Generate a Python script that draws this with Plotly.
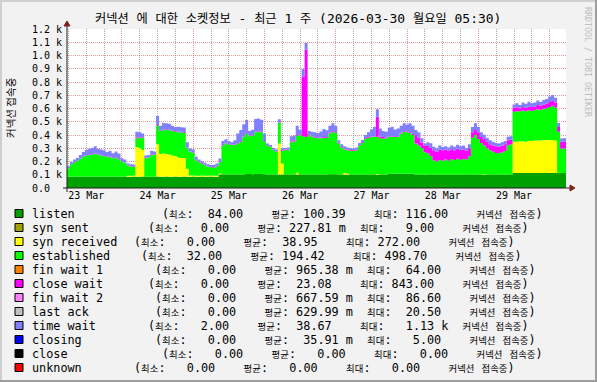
import re
import pandas as pd
import plotly.graph_objects as go

# ---------------- data (hourly, starting 2026-03-23 05:30) ----------------
START = "2026-03-23 05:30"
END = "2026-03-30 05:30"

listen = [
    85, 85, 85, 86, 85, 85, 86, 86, 85, 85, 86, 85,
    85, 86, 85, 85, 86, 85, 85, 86, 85, 85, 86, 85,
    85, 86, 85, 85, 86, 85, 86, 85, 85, 86, 85, 85,
    86, 85, 85, 86, 85, 85, 86, 85, 85, 86, 85, 85,
    86, 85, 85, 101, 101, 102, 101, 101, 102, 101, 101, 102,
    105, 105, 104, 105, 105, 105, 104, 101, 101, 102, 101, 101,
    101, 102, 101, 101, 102, 101, 101, 102, 101, 101, 102, 101,
    101, 102, 101, 101, 104, 104, 104, 100, 100, 101, 100, 100,
    101, 100, 100, 101, 100, 100, 101, 100, 100, 101, 100, 100,
    108, 108, 109, 108, 108, 109, 108, 108, 108, 100, 100, 101,
    100, 100, 101, 100, 100, 101, 100, 100, 101, 100, 100, 101,
    100, 100, 101, 100, 100, 101, 100, 100, 101, 100, 100, 101,
    100, 100, 101, 100, 100, 101, 113, 113, 114, 113, 113, 114,
    113, 113, 114, 113, 113, 114, 113, 113, 114, 113, 113, 114,
]

syn_received = [
    0, 0, 0, 0, 0, 0, 0, 0, 0, 0, 0, 0,
    0, 0, 0, 0, 0, 0, 0, 0, 8, 8, 8, 225,
    215, 200, 0, 0, 0, 0, 245, 172, 175, 170, 168, 160,
    155, 145, 142, 140, 60, 10, 8, 8, 8, 8, 8, 8,
    8, 8, 8, 8, 0, 0, 0, 0, 0, 0, 0, 0,
    0, 0, 0, 0, 0, 0, 0, 0, 0, 0, 0, 235,
    83, 0, 0, 0, 0, 15, 0, 0, 0, 0, 0, 0,
    0, 0, 0, 0, 0, 0, 0, 0, 0, 15, 8, 0,
    0, 0, 0, 0, 0, 0, 0, 0, 5, 0, 0, 0,
    0, 0, 0, 0, 0, 0, 0, 0, 0, 0, 0, 0,
    0, 0, 0, 0, 0, 0, 0, 0, 0, 0, 0, 0,
    0, 0, 0, 0, 0, 0, 0, 0, 5, 0, 0, 0,
    0, 0, 0, 0, 0, 0, 237, 237, 239, 239, 237, 242,
    242, 245, 247, 245, 247, 249, 249, 247, 245, 0, 0, 0,
]

established = [
    62, 95, 110, 117, 135, 150, 160, 163, 165, 173, 165, 160,
    155, 150, 147, 140, 140, 130, 115, 105, 79, 67, 67, 64,
    80, 95, 140, 145, 163, 165, 140, 173, 175, 185, 182, 185,
    185, 190, 193, 190, 155, 178, 172, 117, 102, 91, 79, 67,
    62, 62, 72, 86, 219, 235, 229, 224, 224, 235, 249, 284,
    307, 285, 290, 315, 319, 315, 243, 217, 210, 184, 171, 157,
    96, 184, 184, 244, 249, 279, 299, 289, 284, 299, 284, 279,
    274, 274, 279, 279, 308, 320, 311, 236, 205, 175, 177, 182,
    180, 185, 220, 241, 270, 280, 285, 286, 281, 274, 274, 275,
    278, 278, 278, 278, 304, 316, 312, 307, 292, 236, 220, 200,
    170, 162, 140, 110, 100, 110, 105, 115, 105, 118, 112, 120,
    114, 118, 115, 140, 280, 299, 270, 240, 215, 200, 185, 173,
    165, 162, 168, 180, 223, 230, 225, 230, 226, 233, 230, 230,
    227, 230, 232, 232, 238, 238, 250, 260, 247, 311, 185, 185,
]

close_wait = [
    2, 2, 3, 2, 2, 3, 2, 2, 3, 2, 2, 3,
    2, 2, 3, 2, 2, 3, 2, 2, 3, 2, 3, 8,
    3, 3, 3, 3, 3, 3, 5, 4, 4, 4, 4, 4,
    4, 4, 4, 4, 4, 3, 3, 3, 3, 3, 3, 3,
    3, 3, 3, 3, 4, 4, 4, 4, 4, 4, 4, 4,
    4, 4, 4, 4, 4, 4, 4, 4, 4, 4, 4, 4,
    4, 4, 4, 6, 10, 5, 5, 451, 658, 5, 5, 5,
    5, 5, 5, 5, 6, 6, 6, 5, 5, 5, 5, 5,
    5, 5, 5, 5, 5, 5, 5, 5, 152, 13, 11, 5,
    5, 5, 5, 5, 5, 5, 5, 5, 8, 64, 60, 40,
    50, 61, 60, 75, 73, 80, 80, 75, 75, 74, 73, 75,
    74, 72, 65, 60, 40, 38, 50, 45, 50, 50, 45, 47,
    50, 50, 50, 50, 37, 35, 30, 30, 22, 27, 25, 30,
    30, 27, 33, 30, 32, 35, 38, 40, 40, 36, 51, 51,
]

time_wait = [
    15, 15, 18, 21, 28, 33, 38, 45, 48, 56, 43, 43,
    43, 33, 46, 35, 48, 43, 23, 23, 11, 18, 13, 42,
    37, 27, 17, 17, 29, 22, 68, 36, 51, 44, 46, 36,
    31, 38, 34, 36, 41, 22, 22, 22, 17, 13, 15, 17,
    14, 17, 17, 24, 31, 26, 21, 16, 31, 72, 83, 91,
    97, 36, 41, 96, 97, 91, 60, 14, 10, 11, 14, 21,
    16, 11, 16, 39, 35, 70, 35, 56, 51, 25, 34, 35,
    35, 45, 60, 50, 52, 58, 49, 20, 20, 20, 15, 13,
    13, 15, 15, 15, 25, 35, 50, 71, 56, 62, 45, 44,
    64, 71, 49, 59, 53, 59, 55, 68, 62, 37, 40, 34,
    16, 22, 36, 26, 27, 30, 25, 25, 25, 28, 27, 30,
    27, 30, 20, 30, 40, 51, 40, 35, 30, 30, 30, 28,
    25, 24, 27, 25, 26, 25, 25, 30, 25, 33, 30, 35,
    28, 30, 35, 30, 35, 35, 40, 42, 35, 30, 25, 25,
]

# legend statistics
legend_names = ["listen", "syn sent", "syn received", "established", "fin wait 1",
                "close wait", "fin wait 2", "last ack", "time wait", "closing",
                "close", "unknown"]
stat_min = [84.00, 0.00, 0.00, 32.00, 0.00, 0.00, 0.00, 0.00, 2.00, 0.00, 0.00, 0.00]
stat_avg = [100.39, 0.22781, 38.95, 194.42, 0.96538, 23.08, 0.66759, 0.62999,
            38.67, 0.03591, 0.00, 0.00]
stat_max = [116.00, 9.00, 272.00, 498.70, 64.00, 843.00, 86.60, 20.50,
            1130.0, 5.00, 0.00, 0.00]

y_tickvals = [0, 100, 200, 300, 400, 500, 600, 700, 800, 900, 1000, 1100, 1200]
y_ticktext = ["0.0\u00a0\u00a0", "0.1 k", "0.2 k", "0.3 k", "0.4 k", "0.5 k", "0.6 k",
              "0.7 k", "0.8 k", "0.9 k", "1.0 k", "1.1 k", "1.2 k"]

TITLE = "커넥션 에 대한 소켓정보 - 최근 1 주 (2026-03-30 월요일 05:30)"
Y_TITLE = "커넥션 접속중"
UNIT_TEXT = "커넥션 접속중)"

# ---------------- styles ----------------
COLORS = {
    "listen": "#00A000", "syn sent": "#A0A000", "syn received": "#FFFF00",
    "established": "#00FF00", "fin wait 1": "#FF8000", "close wait": "#FF00FF",
    "fin wait 2": "#FF80FF", "last ack": "#C0C0C0", "time wait": "#8080FF",
    "closing": "#0000FF", "close": "#000000", "unknown": "#FF0000",
}
LEGEND_INDENT = [4, 2, 0, 1, 3, 2, 3, 3, 2, 3, 4, 0]   # in character cells

W, H = 597, 382
PL, PR, PT, PB = 67, 566, 29, 188
MONO = "DejaVu Sans Mono, Noto Sans CJK KR"


def PX(x):
    return (x - PL) / (PR - PL)


def PY(y):
    return (PB - y) / (PB - PT)


def kr(s, size):
    s = s.replace(" ", "\u00a0")
    return re.sub(r"([\uac00-\ud7a3]+)",
                  lambda m: f'<span style="font-size:{size}px">{m.group(1)}</span>', s)


def si(v):
    if v == 0:
        return v, " "
    if v >= 1000:
        return v / 1000, "k"
    if v < 1:
        return v * 1000, "m"
    return v, " "


x = pd.date_range(START, periods=len(listen) + 1, freq="h")


def ext(a):
    return list(a) + [a[-1]]


fig = go.Figure()
for name, vals in [("listen", listen), ("syn received", syn_received),
                   ("established", established), ("close wait", close_wait),
                   ("time wait", time_wait)]:
    fig.add_trace(go.Scatter(
        x=x, y=ext(vals), name=name, mode="lines", stackgroup="one",
        line=dict(width=0, shape="hv", color=COLORS[name]),
        fillcolor=COLORS[name], hoverinfo="skip", showlegend=False))

GRID = "rgba(143,143,143,0.75)"
MGRID = "rgba(222,79,79,0.6)"

fig.update_layout(
    width=W, height=H, autosize=False,
    margin=dict(l=PL, r=W - PR, t=PT, b=H - PB, pad=0, autoexpand=False),
    paper_bgcolor="#F2F2F2", plot_bgcolor="#FFFFFF",
    showlegend=False,
    xaxis=dict(
        type="date", range=[START, END], showline=False, zeroline=False,
        automargin=False,
        tick0="2026-03-23", dtick=86400000, ticklabelmode="period",
        tickformat="%d %b", ticks="", showgrid=True, gridcolor=MGRID,
        griddash="1px,1px", gridwidth=1,
        tickfont=dict(family=MONO, size=10, color="#000000"),
        minor=dict(tick0="2026-03-23", dtick=21600000, showgrid=True,
                   gridcolor=GRID, griddash="1px,1px", gridwidth=1),
        layer="below traces",
    ),
    yaxis=dict(
        range=[0, 1200], tickvals=y_tickvals, ticktext=y_ticktext,
        automargin=False,
        showline=False, zeroline=False, ticks="", showgrid=True,
        gridcolor=MGRID, griddash="1px,1px", gridwidth=1,
        tickfont=dict(family=MONO, size=10, color="#000000"),
        ticklabelstandoff=4, layer="below traces",
    ),
)

shapes = []
# 3D border
shapes.append(dict(type="line", xref="paper", yref="paper", x0=PX(0), x1=PX(W),
                   y0=PY(1), y1=PY(1), line=dict(color="#CFCFCF", width=2)))
shapes.append(dict(type="line", xref="paper", yref="paper", x0=PX(1), x1=PX(1),
                   y0=PY(0), y1=PY(H), line=dict(color="#CFCFCF", width=2)))
shapes.append(dict(type="line", xref="paper", yref="paper", x0=PX(0), x1=PX(W),
                   y0=PY(H - 1), y1=PY(H - 1), line=dict(color="#9E9E9E", width=2)))
shapes.append(dict(type="line", xref="paper", yref="paper", x0=PX(W - 1), x1=PX(W - 1),
                   y0=PY(0), y1=PY(H), line=dict(color="#9E9E9E", width=2)))
# axes
shapes.append(dict(type="line", xref="paper", yref="paper", x0=PX(63), x1=PX(571),
                   y0=PY(188), y1=PY(188), line=dict(color="#1F1F1F", width=1)))
shapes.append(dict(type="line", xref="paper", yref="paper", x0=PX(67), x1=PX(67),
                   y0=PY(192), y1=PY(24), line=dict(color="#1F1F1F", width=1)))
# arrows
shapes.append(dict(type="path", xref="paper", yref="paper",
                   path=f"M {PX(570)} {PY(185)} L {PX(575)} {PY(188)} L {PX(570)} {PY(191)} Z",
                   fillcolor="#801F1F", line=dict(color="#801F1F", width=1)))
shapes.append(dict(type="path", xref="paper", yref="paper",
                   path=f"M {PX(64)} {PY(26)} L {PX(67)} {PY(21)} L {PX(70)} {PY(26)} Z",
                   fillcolor="#801F1F", line=dict(color="#801F1F", width=1)))

annotations = []
annotations.append(dict(text=kr(TITLE, 12.2), x=PX(297.5), y=PY(18), xref="paper", yref="paper",
                        xanchor="center", yanchor="middle", showarrow=False,
                        font=dict(family=MONO, size=13, color="#000000")))
annotations.append(dict(text=Y_TITLE, x=PX(10), y=PY(108), xref="paper", yref="paper",
                        xanchor="center", yanchor="middle", showarrow=False, textangle=-90,
                        font=dict(family="Noto Sans CJK KR", size=10.5, color="#000000")))
annotations.append(dict(text="RRDTOOL / TOBI OETIKER", x=PX(588), y=PY(5), xref="paper",
                        yref="paper", xanchor="center", yanchor="top", showarrow=False,
                        textangle=90, font=dict(family=MONO, size=8.3, color="#BDBDBD")))

CELL = 7.1
for r, name in enumerate(legend_names):
    yc = 214 + 14 * r
    shapes.append(dict(type="rect", xref="paper", yref="paper", x0=PX(15), x1=PX(23),
                       y0=PY(yc - 4.5), y1=PY(yc + 3.5), fillcolor=COLORS[name],
                       line=dict(color="#000000", width=1)))
    annotations.append(dict(text=name.replace(" ", "\u00a0"), x=PX(30), y=PY(yc),
                            xref="paper", yref="paper", xanchor="left", yanchor="middle",
                            showarrow=False, font=dict(family=MONO, size=11.8, color="#000000")))
    mn, u1 = si(stat_min[r])
    av, u2 = si(stat_avg[r])
    mx, u3 = si(stat_max[r])
    s = (f"(최소:{mn:7.2f} {u1}  평균:{av:7.2f} {u2}  최대:{mx:7.2f} {u3}  " + UNIT_TEXT)
    annotations.append(dict(text=kr(s, 9.4), x=PX(131.7 + CELL * LEGEND_INDENT[r]), y=PY(yc),
                            xref="paper", yref="paper", xanchor="left", yanchor="middle",
                            showarrow=False, font=dict(family=MONO, size=11.8, color="#000000")))

fig.update_layout(shapes=shapes, annotations=annotations)
fig.write_html("out.html", config={"displayModeBar": False},
               post_script="document.body.style.margin='0';document.body.style.overflow='hidden';")
